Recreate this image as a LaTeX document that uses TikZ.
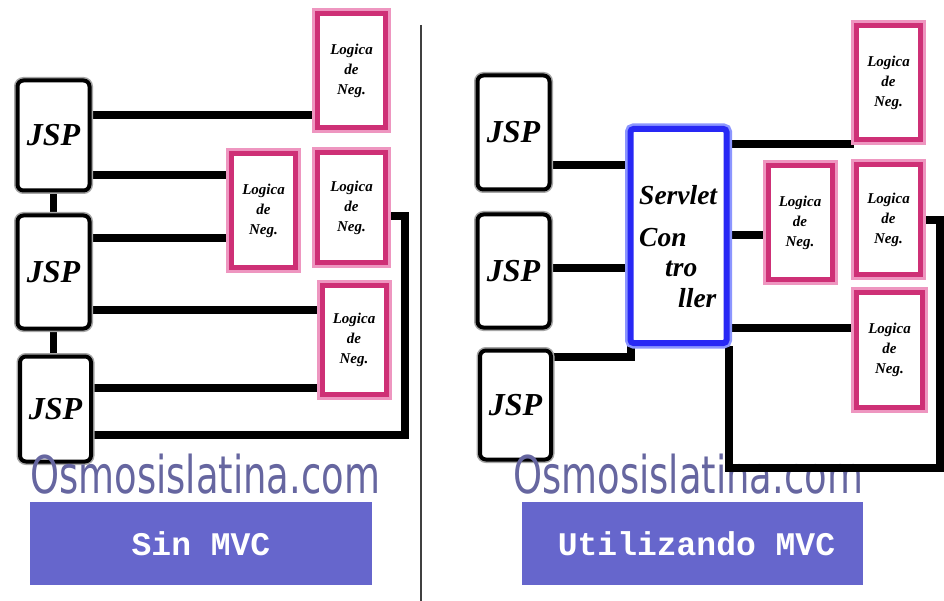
\documentclass[tikz,border=0pt]{standalone}
\usepackage{fontspec}
\setmainfont{Liberation Serif}
\newfontfamily\wmfont{DejaVu Sans}
\newfontfamily\labfont{Liberation Mono}
\usetikzlibrary{backgrounds}
\definecolor{pinkd}{RGB}{206,48,118}
\definecolor{pinkl}{RGB}{238,150,192}
\definecolor{blued}{RGB}{40,40,245}
\definecolor{bluel}{RGB}{140,150,255}
\definecolor{wmcol}{RGB}{102,102,160}
\definecolor{labcol}{RGB}{102,102,204}
\begin{document}
\begin{tikzpicture}[x=1pt,y=-1pt,
  jspbox/.style={draw=black, line width=4pt, rounded corners=6pt, fill=white,
    preaction={draw=black!35, line width=7pt}, minimum width=72pt, minimum height=110pt,
    inner sep=0pt, font=\fontsize{32}{32}\selectfont\bfseries\itshape},
  logic/.style={draw=pinkd, line width=5pt, fill=white,
    preaction={draw=pinkl, line width=11pt}, minimum width=64pt, minimum height=110pt,
    inner sep=0pt, align=center, font=\fontsize{15}{20}\selectfont\bfseries\itshape},
  scbox/.style={draw=blued, line width=6pt, fill=white, rounded corners=3pt,
    preaction={draw=bluel, line width=11pt}, minimum width=96pt, minimum height=214pt, inner sep=0pt},
  sctext/.style={anchor=base west, inner sep=0pt, font=\fontsize{27.5}{27.5}\selectfont\bfseries\itshape},
  conn/.style={line width=8pt, black},
  link/.style={line width=7pt, black},
  labbox/.style={fill=labcol, minimum width=342pt, minimum height=83pt, inner sep=0pt,
    text=white, font=\fontsize{33}{33}\selectfont\labfont\bfseries},
  wmark/.style={anchor=base west, inner sep=0pt, text=wmcol}
]
\useasboundingbox (0,0) rectangle (944,601);
\begin{scope}[on background layer]
  \fill[white] (0,0) rectangle (944,601);
\end{scope}

% ---------- left panel ----------
\node[jspbox] (j1) at (53.5,135.5) {JSP};
\node[jspbox, minimum height=113pt] (j2) at (53.5,272) {JSP};
\node[jspbox, minimum width=71pt, minimum height=105pt] (j3) at (55.5,409) {JSP};

\node[logic, minimum width=68pt, minimum height=114pt] (l1) at (351.5,71) {Logica\\de\\Neg.};
\node[logic, minimum height=114pt] (l2) at (263.5,211) {Logica\\de\\Neg.};
\node[logic, minimum width=68pt] (l3) at (351.5,208) {Logica\\de\\Neg.};
\node[logic, minimum height=108pt] (l4) at (354,340) {Logica\\de\\Neg.};

\coordinate (c1) at (405,435);
\begin{scope}[on background layer]
  \draw[conn] (j1.east |- 0,115) -- (l1.west |- 0,115);
  \draw[conn] (j1.east |- 0,175) -- (l2.west |- 0,175);
  \draw[conn] (j2.east |- 0,238) -- (l2.west |- 0,238);
  \draw[conn] (j2.east |- 0,310) -- (l4.west |- 0,310);
  \draw[conn] (j3.east |- 0,388) -- (l4.west |- 0,388);
  \draw[conn] (l3.east |- 0,216) -| (c1) -- (j3.east |- c1);
  \draw[link] (j1.south) -- (j2.north);
  \draw[link] (j2.south) -- (j2.south |- j3.north);
\end{scope}

% divider
\coordinate (dtop) at (421,25);
\coordinate (dbot) at (421,601);
\draw[line width=1.5pt, black!75] (dtop) -- (dbot);

% ---------- right panel ----------
\node[jspbox, minimum height=114pt] (ja) at (513.5,132.5) {JSP};
\node[jspbox, minimum height=113pt] (jb) at (513.5,271) {JSP};
\node[jspbox, minimum width=71pt, minimum height=109pt] (jc) at (515.5,405) {JSP};

\node[scbox] (sc) at (678.5,236) {};
\node[sctext] (s1) at (639,205) {Servlet};
\node[sctext] (s2) at (639,247) {Con};
\node[sctext] (s3) at (665,277) {tro};
\node[sctext] (s4) at (678,308) {ller};

\node[logic, minimum height=114pt] (r1) at (888.5,83) {Logica\\de\\Neg.};
\node[logic, minimum height=114pt] (r2) at (800,223) {Logica\\de\\Neg.};
\node[logic, minimum height=110pt] (r3) at (888.5,220) {Logica\\de\\Neg.};
\node[logic, minimum width=66pt, minimum height=114pt] (r4) at (889.5,350) {Logica\\de\\Neg.};

\coordinate (c2) at (940,468);
\begin{scope}[on background layer]
  \draw[conn] (ja.east |- 0,165) -- (sc.west |- 0,165);
  \draw[conn] (jb.east |- 0,268) -- (sc.west |- 0,268);
  \draw[conn] (jc.east |- 0,357) -| (sc.south -| 631,0);
  \draw[conn] (sc.east |- 0,144) -- (r1.west |- 0,144);
  \draw[conn] (sc.east |- 0,235) -- (r2.west |- 0,235);
  \draw[conn] (sc.east |- 0,328) -- (r4.west |- 0,328);
\end{scope}

% ---------- watermarks and labels ----------
\node[wmark] (wm1) at (30,493) {\scalebox{0.71}[1]{\wmfont\fontsize{52}{52}\selectfont Osmosislatina.com}};
\node[wmark] (wm2) at (513,493) {\scalebox{0.71}[1]{\wmfont\fontsize{52}{52}\selectfont Osmosislatina.com}};

\begin{scope}[on background layer]
  \draw[conn] (r3.east |- 0,220) -| (c2) -| (sc.south -| 729,0);
\end{scope}
\draw[conn] (sc.south -| 729,0) ++(0,6) |- (c2);

\node[labbox] (lab1) at (201,543.5) {Sin MVC};
\node[labbox, minimum width=341pt] (lab2) at (692.5,543.5) {\hspace*{8pt}Utilizando MVC};
\end{tikzpicture}
\end{document}
